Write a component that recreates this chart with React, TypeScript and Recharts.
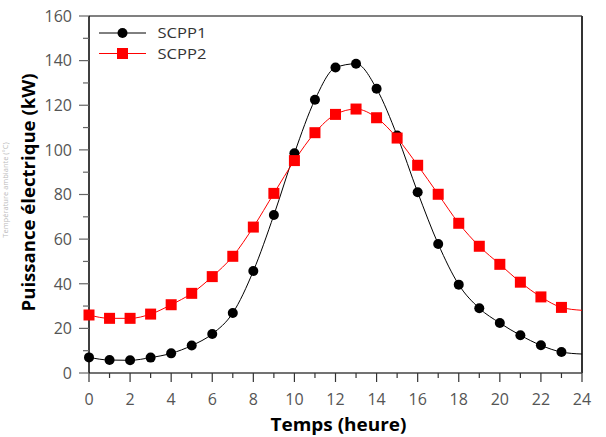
import React from "react";
import { LineChart, Line, XAxis, YAxis, ReferenceLine, Label } from "recharts";

const hours = [0, 1, 2, 3, 4, 5, 6, 7, 8, 9, 10, 11, 12, 13, 14, 15, 16, 17, 18, 19, 20, 21, 22, 23, 24];
const scpp1 = [7.0, 5.8, 5.7, 6.9, 8.8, 12.3, 17.5, 26.9, 45.7, 70.8, 98.5, 122.5, 136.9, 138.6, 127.4, 106.4, 81.0, 57.8, 39.6, 29.0, 22.4, 16.9, 12.4, 9.4, 8.5];
const scpp2 = [26.0, 24.5, 24.5, 26.4, 30.6, 35.7, 43.2, 52.3, 65.4, 80.5, 95.2, 107.7, 115.9, 118.3, 114.4, 105.3, 93.1, 80.1, 67.1, 56.8, 48.7, 40.7, 34.1, 29.4, 28.1];
const xTicks = hours;
const yTicks = [0, 10, 20, 30, 40, 50, 60, 70, 80, 90, 100, 110, 120, 130, 140, 150, 160];
const seriesNames = ["SCPP1", "SCPP2"];
const markedCount = 24;

const data = hours.map((h, i) => ({ h, SCPP1: scpp1[i], SCPP2: scpp2[i] }));

const FONT = "'Open Sans', 'Noto Sans', sans-serif";
const TICK_COLOR = "#555";

const XTick = (props: any) => {
  const { x, y, payload } = props;
  const major = payload.value % 2 === 0;
  return (
    <g>
      <line x1={x} y1={y} x2={x} y2={y + (major ? 9 : 5)} stroke="#333" strokeWidth={1.2} />
      {major && (
        <text x={x} y={y + 32} textAnchor="middle" fill={TICK_COLOR} fontSize={16} fontFamily={FONT}>
          {payload.value}
        </text>
      )}
    </g>
  );
};

const YTick = (props: any) => {
  const { x, y, payload } = props;
  const major = payload.value % 20 === 0;
  return (
    <g>
      <line x1={x} y1={y} x2={x - (major ? 10 : 6)} y2={y} stroke="#666" strokeWidth={1.2} />
      {major && (
        <text x={x - 17} y={y} dy="0.36em" textAnchor="end" fill={TICK_COLOR} fontSize={16} fontFamily={FONT}>
          {payload.value}
        </text>
      )}
    </g>
  );
};

const CircleDot = (props: any) => {
  const { cx, cy, index } = props;
  if (index >= markedCount || cx == null) return <g key={`c${index}`} />;
  return <circle key={`c${index}`} cx={cx} cy={cy} r={5} fill="#000" />;
};

const SquareDot = (props: any) => {
  const { cx, cy, index } = props;
  if (index >= markedCount || cx == null) return <g key={`s${index}`} />;
  return <rect key={`s${index}`} x={cx - 5.5} y={cy - 5.5} width={11} height={11} fill="#ff0000" />;
};

const legendItems = [
  { name: seriesNames[0], color: "#000", shape: "circle" },
  { name: seriesNames[1], color: "#ff0000", shape: "square" },
];

const LegendBox = () => (
  <svg width={140} height={50} style={{ position: "absolute", left: 97, top: 22, display: "block" }}>
    {legendItems.map((it, i) => {
      const cy = 11 + i * 20.5;
      return (
        <g key={it.name}>
          <line x1={2} y1={cy} x2={49} y2={cy} stroke={it.color} strokeWidth={1} />
          {it.shape === "circle" ? (
            <circle cx={25.5} cy={cy} r={5} fill={it.color} />
          ) : (
            <rect x={20} y={cy - 5.5} width={11} height={11} fill={it.color} />
          )}
          <text
            x={60.5}
            y={cy}
            dy="0.36em"
            fontFamily={FONT}
            fontSize={15}
            fill="#333"
            textLength={49}
            lengthAdjust="spacingAndGlyphs"
          >
            {it.name}
          </text>
        </g>
      );
    })}
  </svg>
);

export default function App() {
  return (
    <div style={{ position: "fixed", left: 0, top: 0, width: 606, height: 437, background: "#fff" }}>
      <LineChart width={606} height={437} data={data} margin={{ top: 16, right: 24, bottom: 0, left: 0 }}>
        <XAxis
          dataKey="h"
          type="number"
          domain={[0, 24]}
          ticks={xTicks}
          interval={0}
          tickSize={0}
          tickMargin={0}
          tick={<XTick />}
          height={64}
          axisLine={{ stroke: "#444", strokeWidth: 1.5 }}
          tickLine={false}
        >
          <Label
            content={() => (
              <text
                x={338.5}
                y={431}
                textAnchor="middle"
                fontFamily={FONT}
                fontSize={18}
                fontWeight="bold"
                fill="#000"
                textLength={136}
                lengthAdjust="spacingAndGlyphs"
              >
                Temps (heure)
              </text>
            )}
          />
        </XAxis>
        <YAxis
          type="number"
          domain={[0, 160]}
          ticks={yTicks}
          interval={0}
          tickSize={0}
          tickMargin={0}
          tick={<YTick />}
          width={89}
          axisLine={{ stroke: "#000", strokeWidth: 1.5 }}
          tickLine={false}
        >
          <Label
            content={() => (
              <g>
                <text
                  transform="translate(35,192.5) rotate(-90)"
                  textAnchor="middle"
                  fontFamily={FONT}
                  fontSize={18}
                  fontWeight="bold"
                  fill="#000"
                  textLength={238}
                  lengthAdjust="spacingAndGlyphs"
                >
                  Puissance électrique (kW)
                </text>
                <text
                  transform="translate(8,190) rotate(-90)"
                  textAnchor="middle"
                  fontFamily={FONT}
                  fontSize={7.5}
                  fill="#bbb"
                >
                  Température ambiante (°C)
                </text>
              </g>
            )}
          />
        </YAxis>
        <ReferenceLine y={160} stroke="#808080" strokeWidth={2} />
        <ReferenceLine x={24} stroke="#333" strokeWidth={2} />
        <Line
          type="monotone"
          dataKey="SCPP1"
          stroke="#000"
          strokeWidth={1}
          dot={<CircleDot />}
          activeDot={false}
          isAnimationActive={false}
        />
        <Line
          type="monotone"
          dataKey="SCPP2"
          stroke="#ff0000"
          strokeWidth={1}
          dot={<SquareDot />}
          activeDot={false}
          isAnimationActive={false}
        />
      </LineChart>
      <LegendBox />
    </div>
  );
}
